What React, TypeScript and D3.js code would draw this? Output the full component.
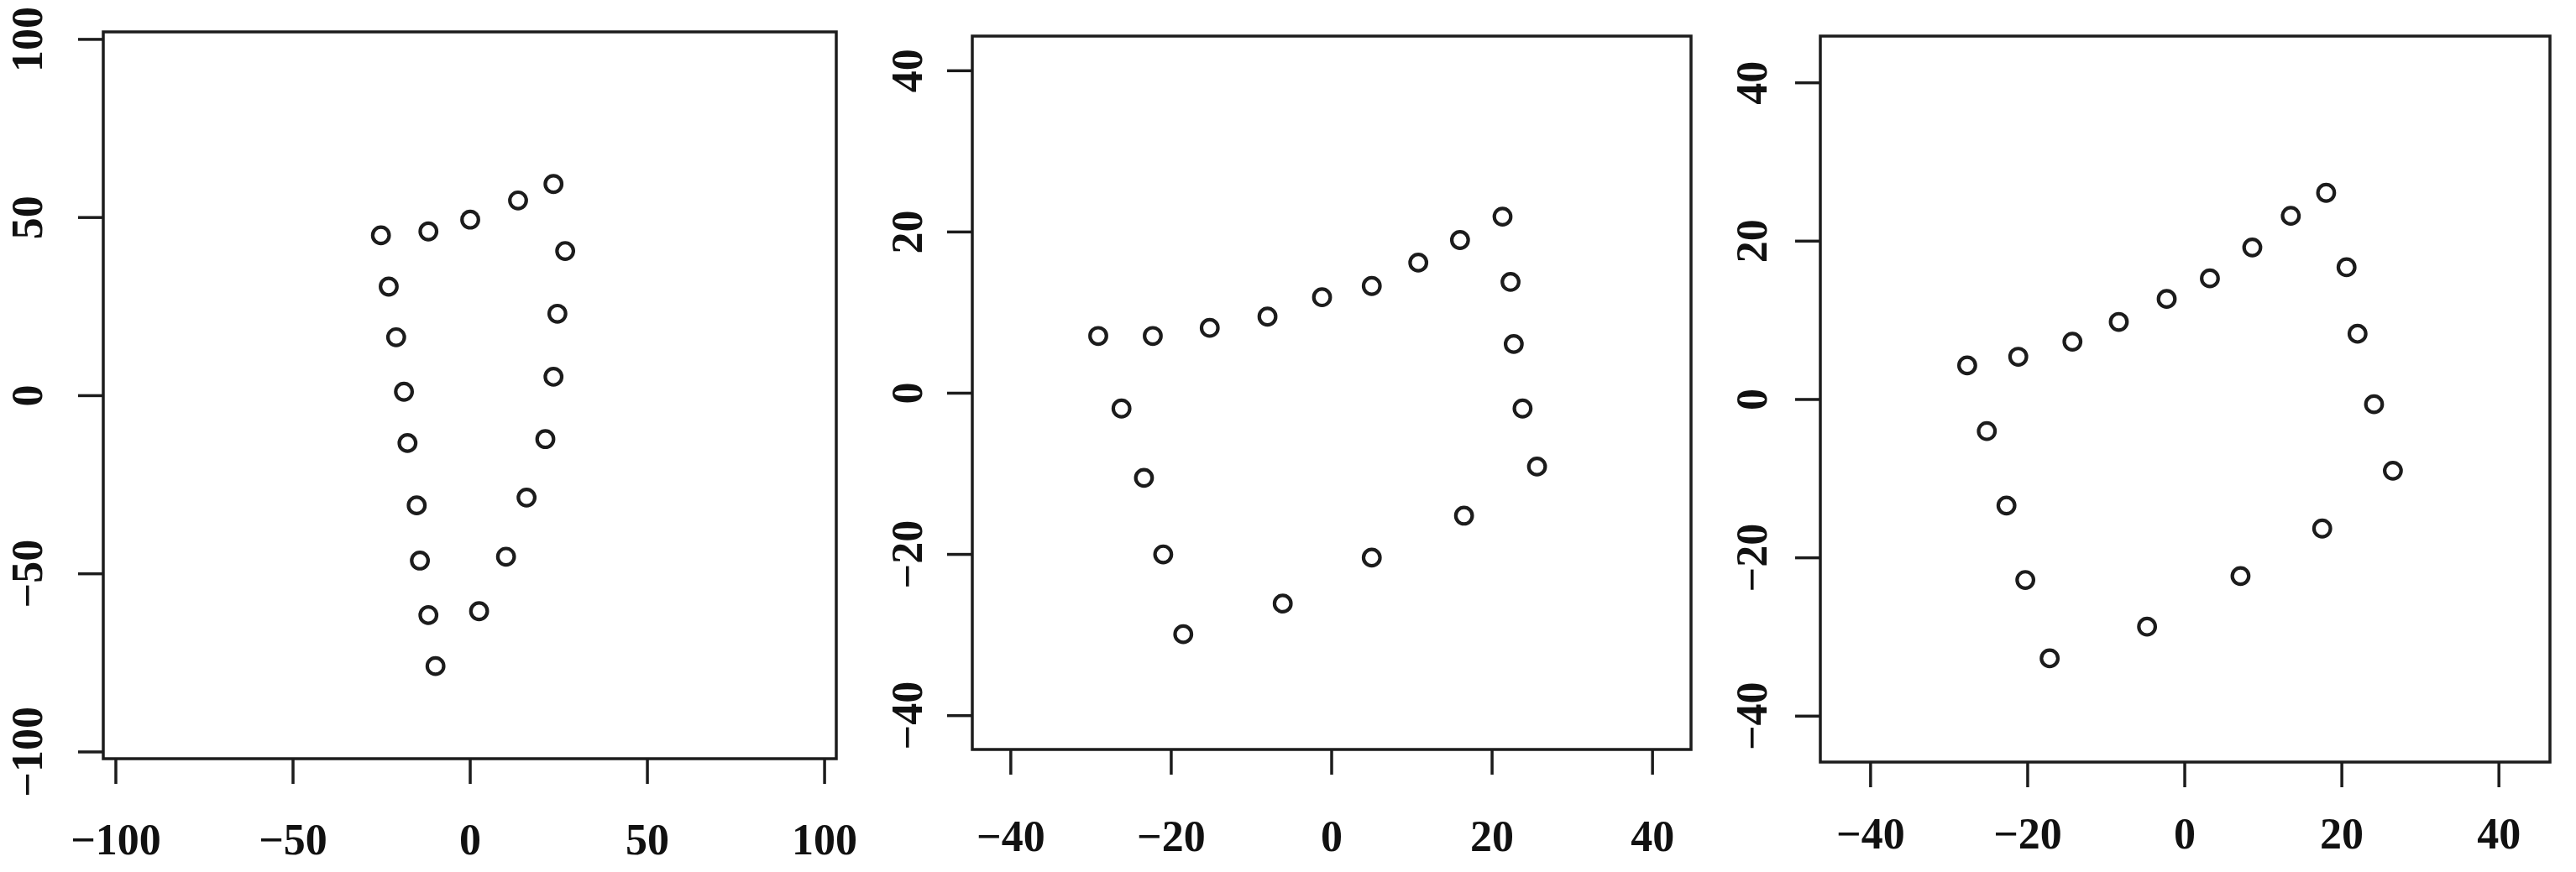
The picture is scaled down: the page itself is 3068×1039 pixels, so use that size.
import React from "react";
import * as d3 from "d3";

// values
const xA = [-25.2, -11.8, 0, 13.5, 23.5, 26.8, 24.6, 23.5, 21.2, 15.9, 10.1, 2.5, -9.8, -11.8, -14.2, -15.1, -17.7, -18.7, -20.9, -23.0];
const yA = [45.0, 46.1, 49.4, 54.8, 59.4, 40.6, 23.0, 5.3, -12.2, -28.6, -45.2, -60.5, -75.9, -61.6, -46.3, -30.8, -13.3, 1.1, 16.4, 30.6];

const xB = [-29.1, -22.3, -15.2, -8.0, -1.2, 5.0, 10.8, 16.0, 21.3, 22.3, 22.7, 23.8, 25.6, 16.5, 5.0, -6.1, -18.5, -21.0, -23.4, -26.2];
const yB = [7.1, 7.1, 8.1, 9.5, 11.9, 13.3, 16.2, 19.0, 21.9, 13.8, 6.1, -1.9, -9.1, -15.2, -20.4, -26.1, -29.9, -20.0, -10.5, -1.9];

const xC = [-27.7, -21.2, -14.3, -8.4, -2.3, 3.2, 8.6, 13.5, 18.0, 20.6, 22.0, 24.1, 26.5, 17.5, 7.1, -4.8, -17.2, -20.3, -22.7, -25.2];
const yC = [4.3, 5.4, 7.3, 9.8, 12.7, 15.3, 19.2, 23.2, 26.1, 16.7, 8.3, -0.6, -9.0, -16.3, -22.3, -28.7, -32.7, -22.8, -13.4, -4.0];

const ticksA = [-100, -50, 0, 50, 100];
const ticksB = [-40, -20, 0, 20, 40];

// per-panel box and axis limits (layout only)
const panels = [
  { xs: xA, ys: yA, ticks: ticksA, xLim: [-103.55, 103.3], yLim: [-101.9, 102.1], box: { l: 123, t: 38, r: 996, b: 904 }, xLabY: 1018, yLabX: 50 },
  { xs: xB, ys: yB, ticks: ticksB, xLim: [-44.8, 44.8], yLim: [-44.2, 44.3], box: { l: 1158, t: 43, r: 2014, b: 893 }, xLabY: 1014, yLabX: 1098 },
  { xs: xC, ys: yC, ticks: ticksB, xLim: [-46.4, 46.5], yLim: [-45.8, 45.9], box: { l: 2168, t: 43, r: 3037, b: 908 }, xLabY: 1011, yLabX: 2104 },
];

const INK = "#1c1c1c";
const FONT = "'Liberation Serif', 'DejaVu Serif', serif";
const TICK = 30;

const fmt = (v: number) => (v < 0 ? "\u2212" + Math.abs(v) : String(v));

function Panel({ p }: { p: typeof panels[number] }) {
  const { box } = p;
  const x = d3.scaleLinear().domain(p.xLim).range([box.l, box.r]);
  const y = d3.scaleLinear().domain(p.yLim).range([box.b, box.t]);
  const pts = p.xs.map((v, i) => [v, p.ys[i]]);

  return (
    <g>
      <rect x={box.l} y={box.t} width={box.r - box.l} height={box.b - box.t}
        fill="none" stroke={INK} strokeWidth={3.5} />
      {/* x axis */}
      {p.ticks.map((t) => (
        <g key={"x" + t}>
          <line x1={x(t)} x2={x(t)} y1={box.b} y2={box.b + TICK} stroke={INK} strokeWidth={3.5} />
          <text x={x(t)} y={p.xLabY} textAnchor="middle" fontFamily={FONT}
            fontWeight="bold" fontSize={52} fill="#111">{fmt(t)}</text>
        </g>
      ))}
      {/* y axis */}
      {p.ticks.map((t) => (
        <g key={"y" + t}>
          <line x1={box.l - TICK} x2={box.l} y1={y(t)} y2={y(t)} stroke={INK} strokeWidth={3.5} />
          <text transform={`translate(${p.yLabX},${y(t)}) rotate(-90)`} textAnchor="middle"
            fontFamily={FONT} fontWeight="bold" fontSize={52} fill="#111">{fmt(t)}</text>
        </g>
      ))}
      {pts.map((d, i) => (
        <circle key={i} cx={x(d[0])} cy={y(d[1])} r={9.8} fill="none" stroke={INK} strokeWidth={4.2} />
      ))}
    </g>
  );
}

export default function App() {
  return (
    <div style={{ position: "absolute", left: 0, top: 0 }}>
      <svg width={3068} height={1039} style={{ display: "block", background: "#fff" }}>
        {panels.map((p, i) => <Panel key={i} p={p} />)}
      </svg>
    </div>
  );
}
